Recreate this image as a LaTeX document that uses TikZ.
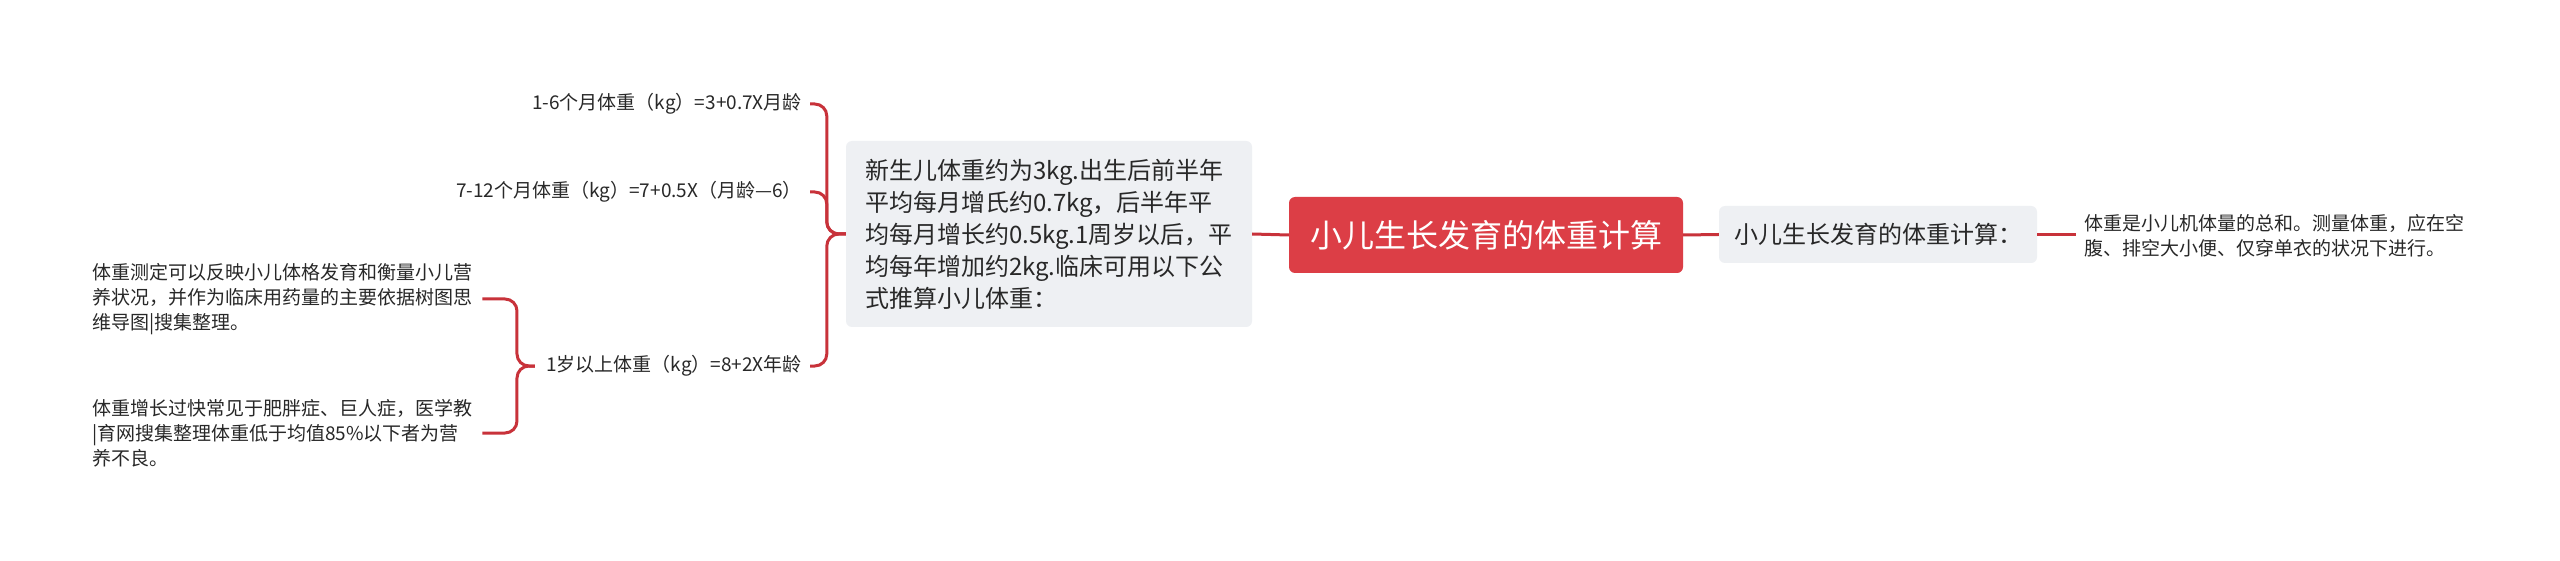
\documentclass[tikz,border=0pt]{standalone}
\usepackage{fontspec}
\setmainfont{Noto Sans CJK SC}
\definecolor{linered}{RGB}{200,50,58}
\definecolor{rootred}{RGB}{220,62,70}
\definecolor{boxgray}{RGB}{238,240,243}
\definecolor{txt}{RGB}{40,40,40}
\begin{document}
\begin{tikzpicture}[x=1pt,y=-1pt,
  conn/.style={draw=linered, line width=3pt, rounded corners=12pt},
  graybox/.style={fill=boxgray, rounded corners=6pt, text=txt, inner sep=0pt},
  leaf/.style={text=txt, inner sep=0pt, font=\fontsize{19}{25}\selectfont}]
\useasboundingbox[fill=white] (0,0) rectangle (2560,561);
\node[fill=rootred, rounded corners=6pt, minimum width=394pt, minimum height=76pt, inner sep=0pt, text=white, font=\fontsize{32}{38}\selectfont] (root) at (1486,235) {小儿生长发育的体重计算};
\node[graybox, minimum width=406pt, minimum height=186pt, align=left, font=\fontsize{24}{32}\selectfont] (main) at (1049,234) {新生儿体重约为3kg.出生后前半年\\平均每月增氏约0.7kg，后半年平\\均每月增长约0.5kg.1周岁以后，平\\均每年增加约2kg.临床可用以下公\\式推算小儿体重：};
\node[graybox, minimum width=318pt, minimum height=57pt, font=\fontsize{24}{30}\selectfont] (rbox) at (1878,234.5) {小儿生长发育的体重计算：};
\node[leaf, anchor=west, align=left] (rleaf) at (2084,236) {体重是小儿机体量的总和。测量体重，应在空\\腹、排空大小便、仅穿单衣的状况下进行。};
\node[leaf, anchor=east] (l1) at (802,104) {1-6个月体重（kg）=3+0.7X月龄};
\node[leaf, anchor=east] (l2) at (802,192) {7-12个月体重（kg）=7+0.5X（月龄—6）};
\node[leaf, anchor=east] (l3) at (802,366) {1岁以上体重（kg）=8+2X年龄};
\node[leaf, anchor=west, align=left] (ll1) at (92,299) {体重测定可以反映小儿体格发育和衡量小儿营\\养状况，并作为临床用药量的主要依据树图思\\维导图|搜集整理。};
\node[leaf, anchor=west, align=left] (ll2) at (92,433) {体重增长过快常见于肥胖症、巨人症，医学教\\|育网搜集整理体重低于均值85\%以下者为营\\养不良。};
\draw[conn] (main.east) -- (root.west);
\draw[conn] (root.east) -- (rbox.west);
\draw[conn, shorten >=8pt] (rbox.east) -- (rbox.east -| rleaf.west);
\draw[conn] (main.west) -- ++(-19,0) |- ([xshift=8pt]l1.east);
\draw[conn] (main.west) -- ++(-19,0) |- ([xshift=8pt]l2.east);
\draw[conn] (main.west) -- ++(-19,0) |- ([xshift=8pt]l3.east);
\draw[conn] ([xshift=-11pt]l3.west) -- ++(-18,0) |- ([xshift=10pt]ll1.east);
\draw[conn] ([xshift=-11pt]l3.west) -- ++(-18,0) |- ([xshift=10pt]ll2.east);
\end{tikzpicture}
\end{document}
